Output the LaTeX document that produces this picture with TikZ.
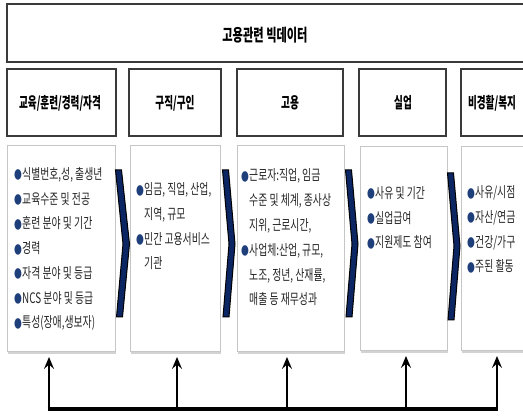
\documentclass[tikz,border=0pt]{standalone}
\usepackage{fontspec}
\usetikzlibrary{arrows.meta,shadows}
\newfontfamily\krc{Noto Sans CJK KR}[FakeStretch=0.68]
\newfontfamily\krh{Noto Sans CJK KR}[FakeStretch=0.62]
\newfontfamily\krt{Noto Sans CJK KR}[FakeStretch=0.66]
\newfontfamily\dejavu{DejaVu Sans}
\definecolor{navy}{HTML}{0C2563}
\definecolor{bulc}{HTML}{1F3F7A}
\definecolor{frame}{HTML}{3A3A3A}
\newcommand\bul{\makebox[8pt][l]{\textcolor{bulc}{\raisebox{0.5pt}{\scalebox{0.62}[0.95]{\dejavu ●}}}}}
\newcommand\ind{\hspace*{8pt}}
\begin{document}
\begin{tikzpicture}[x=1pt,y=-1pt,
  topbox/.style={draw=frame,line width=1.6pt,fill=white,drop shadow={opacity=0.35,shadow xshift=1pt,shadow yshift=-1.5pt}},
  headbox/.style={draw=frame,line width=1.4pt,fill=white,drop shadow={opacity=0.3,shadow xshift=1pt,shadow yshift=-1.5pt}},
  contbox/.style={draw=gray!45,line width=1pt,fill=white,drop shadow={opacity=0.35,shadow xshift=0.8pt,shadow yshift=-2.5pt}},
  headtxt/.style={font={\krh\bfseries\fontsize{15.5}{18}\selectfont},inner sep=0pt},
  conttxt/.style={font={\krc\fontsize{14.5}{24.8}\selectfont},align=left,inner sep=0pt,anchor=base west,text=black!85},
  chev/.style={fill=navy,draw=black,line width=1pt,line join=miter},
  arr/.style={line width=2.6pt,-{Stealth[length=12pt,width=10pt,inset=4.5pt]}},
  bus/.style={line width=4pt}]
\useasboundingbox (0,0) rectangle (523,417);
\clip (0,0) rectangle (523,417);
% title
\draw[topbox] (7,4) rectangle (528,62);
\node[font={\krt\bfseries\fontsize{17}{20}\selectfont},inner sep=0pt] (title) at (265,35) {고용관련 빅데이터};
% header boxes
\draw[headbox] (7,69) rectangle (116,136);
\draw[headbox] (129,69) rectangle (221,136);
\draw[headbox] (237,69) rectangle (343,136);
\draw[headbox] (359,69) rectangle (446,136);
\draw[headbox] (461,69) rectangle (540,136);
\node[headtxt] (h1) at (60,103) {교육/훈련/경력/자격};
\node[headtxt] (h2) at (175,103) {구직/구인};
\node[headtxt] (h3) at (290,103) {고용};
\node[headtxt] (h4) at (403,103) {실업};
\node[headtxt] (h5) at (492,103) {비경활/복지};
% content boxes
\node[contbox,minimum width=108pt,minimum height=206pt,anchor=north west,inner sep=0pt] (c1) at (7,145) {};
\node[contbox,minimum width=90pt,minimum height=206pt,anchor=north west,inner sep=0pt] (c2) at (130,145) {};
\node[contbox,minimum width=107pt,minimum height=206pt,anchor=north west,inner sep=0pt] (c3) at (237,145) {};
\node[contbox,minimum width=87pt,minimum height=204pt,anchor=north west,inner sep=0pt] (c4) at (360,146) {};
\node[contbox,minimum width=80pt,minimum height=204pt,anchor=north west,inner sep=0pt] (c5) at (461,146) {};
% texts (anchor = baseline of last line)
\node[conttxt] (t1) at (14,328) {\bul 식별번호,성, 출생년\\ \bul 교육수준 및 전공\\ \bul 훈련 분야 및 기간\\ \bul 경력\\ \bul 자격 분야 및 등급\\ \bul NCS 분야 및 등급\\ \bul 특성(장애,생보자)};
\node[conttxt] (t2) at (136,269) {\bul 임금, 직업, 산업,\\ \ind 지역, 규모\\ \bul 민간 고용서비스\\ \ind 기관};
\node[conttxt] (t3) at (241,305) {\bul 근로자:직업, 임금\\ \ind 수준 및 체계, 종사상\\ \ind 지위, 근로시간,\\ \bul 사업체:산업, 규모,\\ \ind 노조, 정년, 산재률,\\ \ind 매출 등 재무성과};
\node[conttxt] (t4) at (367,248) {\bul 사유 및 기간\\ \bul 실업급여\\ \bul 지원제도 참여};
\node[conttxt] (t5) at (467,272) {\bul 사유/시점\\ \bul 자산/연금\\ \bul 건강/가구\\ \bul 주된 활동};
% chevrons
\draw[chev] (115.5,170) -- (121.5,170) -- (129.5,244) -- (122.5,317) -- (116.5,317) -- (123,244) -- cycle;
\draw[chev] (222.5,170) -- (228.5,170) -- (235,244) -- (229,317) -- (223,317) -- (229,244) -- cycle;
\draw[chev] (345.5,170) -- (351.5,170) -- (358,244) -- (352,317) -- (346,317) -- (352,244) -- cycle;
\draw[chev] (447.5,173) -- (453.5,173) -- (460,246) -- (454,320) -- (448,320) -- (454,246) -- cycle;
% bus and arrows
\coordinate (b1) at (49,409);
\coordinate (b2) at (177,409);
\coordinate (b3) at (287,409);
\coordinate (b4) at (406,409);
\coordinate (b5) at (497,409);
\draw[bus] ([xshift=-1.3pt]b1) -- ([xshift=1.3pt]b5);
\draw[arr] (b1) -- ([yshift=-5pt]b1 |- c1.south);
\draw[arr] (b2) -- ([yshift=-5pt]b2 |- c2.south);
\draw[arr] (b3) -- ([yshift=-5pt]b3 |- c3.south);
\draw[arr] (b4) -- ([yshift=-5pt]b4 |- c4.south);
\draw[arr] (b5) -- ([yshift=-5pt]b5 |- c5.south);
\end{tikzpicture}
\end{document}
